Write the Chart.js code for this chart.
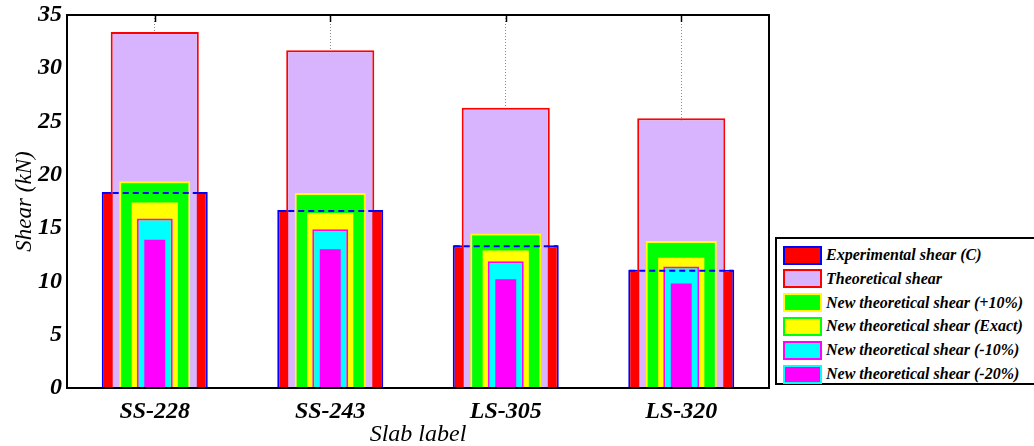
<!DOCTYPE html>
<html>
<head>
<meta charset="utf-8">
<script src="https://cdn.jsdelivr.net/npm/chart.js@4.4.0/dist/chart.umd.min.js"></script>
<style>
  html, body { margin: 0; padding: 0; background: #fff; overflow: hidden; }
  #wrap { position: relative; width: 1034px; height: 446px; }
  #legend {
    position: absolute; left: 775px; top: 237px; width: 300px; height: 144px;
    border: 2px solid #000; background: #fff; box-sizing: content-box;
    font-family: "Liberation Serif", "Times New Roman", serif;
    font-weight: bold; font-style: italic; font-size: 16px; color: #000;
  }
  .row { position: absolute; left: 6px; height: 20px; display: flex; align-items: center; }
  .sw { width: 35px; height: 15px; border: 2px solid; margin-right: 4px; }
</style>
</head>
<body>
<div id="wrap">
  <canvas id="c" width="1034" height="446"></canvas>
  <div id="legend"></div>
</div>
<script>
// Shear results per slab (kN)
const slabLabels = ['SS-228', 'SS-243', 'LS-305', 'LS-320'];
const experimentalShear = [18.4, 16.7, 13.4, 11.1];
const theoreticalShear = [33.4, 31.7, 26.3, 25.3];
const newShearPlus10 = [19.4, 18.3, 14.5, 13.8];
const newShearExact = [17.6, 16.6, 13.1, 12.4];
const newShearMinus10 = [15.9, 14.9, 11.9, 11.4];
const newShearMinus20 = [14.1, 13.2, 10.4, 10.0];
const seriesNames = [
  'Experimental shear (C)',
  'Theoretical shear',
  'New theoretical shear (+10%)',
  'New theoretical shear (Exact)',
  'New theoretical shear (-10%)',
  'New theoretical shear (-20%)'
];

const serif = '"Liberation Serif", "Times New Roman", serif';

// Nested bars: wider bars are drawn first, narrower ones on top
const specs = [
  { data: experimentalShear, fill: '#ff0000', edge: '#0000ff', width: 0.604 },
  { data: theoreticalShear,  fill: '#d8b4fe', edge: '#ff0000', width: 0.502 },
  { data: newShearPlus10,    fill: '#00ff00', edge: '#ffff00', width: 0.405 },
  { data: newShearExact,     fill: '#ffff00', edge: '#00ff00', width: 0.286 },
  { data: newShearMinus10,   fill: '#00ffff', edge: '#ff00ff', width: 0.205 },
  { data: newShearMinus20,   fill: '#ff00ff', edge: '#00ffff', width: 0.142 }
];

const datasets = specs.map((s, i) => ({
  label: seriesNames[i],
  data: s.data,
  backgroundColor: s.fill,
  borderColor: s.edge,
  borderWidth: 2,
  borderSkipped: 'start',
  grouped: false,
  categoryPercentage: 1,
  barPercentage: s.width,
  order: specs.length - i
}));

// Frame, inward top ticks and the experimental top edge drawn over the nested bars
const framePlugin = {
  id: 'frame',
  afterDatasetsDraw(chart) {
    const ctx = chart.ctx;
    const meta = chart.getDatasetMeta(0);
    ctx.save();
    ctx.strokeStyle = '#0000ff';
    ctx.lineWidth = 2;
    ctx.setLineDash([6, 4]);
    meta.data.forEach(bar => {
      ctx.beginPath();
      ctx.moveTo(bar.x - bar.width / 2 + 1, bar.y + 1);
      ctx.lineTo(bar.x + bar.width / 2 - 1, bar.y + 1);
      ctx.stroke();
    });
    ctx.restore();
  },
  afterDraw(chart) {
    const ctx = chart.ctx;
    const a = chart.chartArea;
    const xs = chart.scales.x;
    ctx.save();
    ctx.strokeStyle = '#000';
    ctx.lineWidth = 1.5;
    xs.ticks.forEach((t, i) => {
      const px = Math.round(xs.getPixelForTick(i)) + 0.5;
      ctx.beginPath();
      ctx.moveTo(px, a.top);
      ctx.lineTo(px, a.top + 7);
      ctx.stroke();
    });
    ctx.lineWidth = 2;
    ctx.strokeRect(a.left, a.top, a.right - a.left, a.bottom - a.top);
    ctx.restore();
  }
};

new Chart(document.getElementById('c'), {
  type: 'bar',
  data: { labels: slabLabels, datasets },
  plugins: [framePlugin],
  options: {
    responsive: false,
    animation: false,
    layout: { padding: { top: 15, right: 265, left: 0, bottom: 0 } },
    plugins: { legend: { display: false }, tooltip: { enabled: false } },
    scales: {
      x: {
        grid: { offset: false, drawTicks: false, color: '#8a8a8a', lineWidth: 1 },
        border: { display: true, color: '#000', width: 2, dash: [1, 2] },
        ticks: {
          padding: 9, color: '#000',
          font: { family: serif, size: 24, weight: 'bold', style: 'italic' }
        },
        title: {
          display: true, text: 'Slab label', color: '#000',
          font: { family: serif, size: 24, style: 'italic' },
          padding: { top: 0, bottom: -3 }
        },
        afterFit(scale) { scale.height = 58; scale.paddingLeft = 0; scale.paddingRight = 0; }
      },
      y: {
        min: 0, max: 35,
        grid: { display: false, drawTicks: false },
        border: { display: true, color: '#000', width: 2 },
        ticks: {
          stepSize: 5, padding: 5, color: '#000',
          font: { family: serif, size: 24, weight: 'bold', style: 'italic' }
        },
        title: {
          display: true, text: 'Shear (kN)', color: '#000',
          font: { family: serif, size: 23, style: 'italic' },
          padding: { top: 11, bottom: 0 }
        },
        afterFit(scale) { scale.width = 67; scale.paddingTop = 0; scale.paddingBottom = 0; }
      }
    }
  }
});

// Legend built from the same series names and colours
const legend = document.getElementById('legend');
specs.forEach((s, i) => {
  const row = document.createElement('div');
  row.className = 'row';
  row.style.top = (6 + i * 23.8) + 'px';
  const sw = document.createElement('span');
  sw.className = 'sw';
  sw.style.background = s.fill;
  sw.style.borderColor = s.edge;
  const txt = document.createElement('span');
  txt.textContent = seriesNames[i];
  row.appendChild(sw);
  row.appendChild(txt);
  legend.appendChild(row);
});
</script>
</body>
</html>
